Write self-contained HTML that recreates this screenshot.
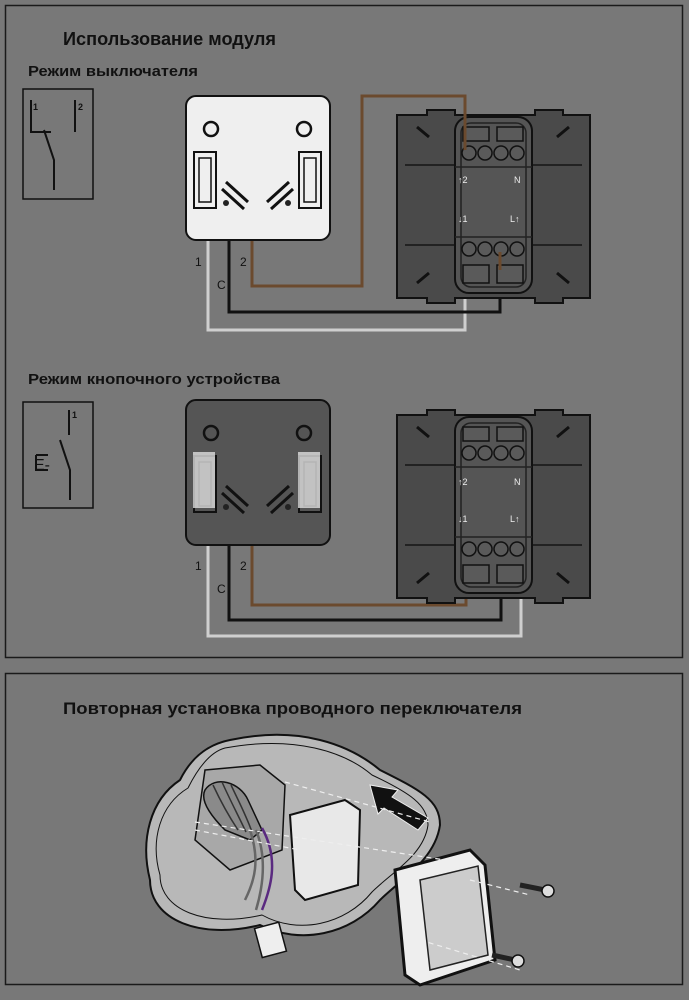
<!DOCTYPE html>
<html><head><meta charset="utf-8"><style>
html,body{margin:0;padding:0;background:#787878;}
svg{display:block}
text{font-family:"Liberation Sans",sans-serif;fill:#111}
</style></head><body>
<svg width="689" height="1000" viewBox="0 0 689 1000" xmlns="http://www.w3.org/2000/svg">
<defs>
<g id="mech">
  <path d="M0,10 h30 v-5 h28 v5 h80 v-5 h28 v5 h27 v183 h-27 v5 h-28 v-5 h-80 v5 h-28 v-5 h-30 z" fill="#4a4a4a" stroke="#111" stroke-width="2"/>
  <path d="M8,60 h50 M135,60 h50 M8,140 h50 M135,140 h50" stroke="#222" stroke-width="2"/>
  <rect x="58" y="12" width="77" height="176" rx="14" fill="#555" stroke="#111" stroke-width="2"/>
  <rect x="64" y="18" width="65" height="164" rx="10" fill="none" stroke="#222" stroke-width="1.5"/>
  <g fill="#5a5a5a" stroke="#111" stroke-width="1.5">
    <circle cx="72" cy="48" r="7"/><circle cx="88" cy="48" r="7"/><circle cx="104" cy="48" r="7"/><circle cx="120" cy="48" r="7"/>
    <circle cx="72" cy="144" r="7"/><circle cx="88" cy="144" r="7"/><circle cx="104" cy="144" r="7"/><circle cx="120" cy="144" r="7"/>
    <rect x="66" y="22" width="26" height="14"/><rect x="100" y="22" width="26" height="14"/>
    <rect x="66" y="160" width="26" height="18"/><rect x="100" y="160" width="26" height="18"/>
  </g>
  <g fill="none" stroke="#111" stroke-width="3">
    <path d="M20,22 l12,10 M160,32 l12,-10 M20,178 l12,-10 M160,168 l12,10"/>
  </g>
  <path d="M58,62 h77 M58,132 h77" stroke="#222" stroke-width="1.5"/>
</g>
<g id="mod">
  <circle cx="25" cy="22" r="7" fill="none" stroke="#111" stroke-width="2.5"/>
  <circle cx="118" cy="22" r="7" fill="none" stroke="#111" stroke-width="2.5"/>
  <rect x="8" y="45" width="22" height="56" fill="none" stroke="#111" stroke-width="2"/>
  <rect x="13" y="51" width="12" height="44" fill="none" stroke="#111" stroke-width="1.5"/>
  <rect x="113" y="45" width="22" height="56" fill="none" stroke="#111" stroke-width="2"/>
  <rect x="118" y="51" width="12" height="44" fill="none" stroke="#111" stroke-width="1.5"/>
  <path d="M40,75 l22,20 M36,82 l22,20 M103,75 l-22,20 M107,82 l-22,20" stroke="#111" stroke-width="3"/>
  <circle cx="40" cy="96" r="3" fill="#222"/><circle cx="102" cy="96" r="3" fill="#222"/>
</g>
</defs>

<rect x="5.5" y="5.5" width="677" height="652" fill="none" stroke="#1a1a1a" stroke-width="1.5"/>
<rect x="5.5" y="673.5" width="677" height="311" fill="none" stroke="#1a1a1a" stroke-width="1.5"/>

<text x="63" y="45" font-size="18" font-weight="bold" textLength="213" lengthAdjust="spacingAndGlyphs">Использование модуля</text>
<text x="28" y="76" font-size="15" font-weight="bold" textLength="170" lengthAdjust="spacingAndGlyphs">Режим выключателя</text>

<rect x="23" y="89" width="70" height="110" fill="none" stroke="#111" stroke-width="1.5"/>
<path d="M31,100 v32 h20 M44,130 l10,30 v30 M75,100 v32" stroke="#111" stroke-width="2" fill="none"/>
<text x="33" y="110" font-size="9" font-weight="bold">1</text>
<text x="78" y="110" font-size="9" font-weight="bold">2</text>

<path d="M252,240 V286 H362 V96 H465 V150" fill="none" stroke="#6b4a2e" stroke-width="3"/>
<path d="M208,240 V330 H465 V255" fill="none" stroke="#cfcfcf" stroke-width="3"/>
<path d="M229,240 V312 H500 V252" fill="none" stroke="#111" stroke-width="3"/>
<rect x="186" y="96" width="144" height="144" rx="10" fill="#efefef" stroke="#111" stroke-width="2"/>
<use href="#mod" x="186" y="107"/>
<use href="#mech" x="397" y="105"/>
<path d="M465,96 V150 M500,252 V270" stroke="#6b4a2e" stroke-width="3"/>
<text x="458" y="183" font-size="9" style="fill:#eee">↑2</text>
<text x="514" y="183" font-size="9" style="fill:#eee">N</text>
<text x="458" y="222" font-size="9" style="fill:#eee">↓1</text>
<text x="510" y="222" font-size="9" style="fill:#eee">L↑</text>
<text x="195" y="266" font-size="12">1</text>
<text x="240" y="266" font-size="12">2</text>
<text x="217" y="289" font-size="12">C</text>

<text x="28" y="384" font-size="15" font-weight="bold" textLength="252" lengthAdjust="spacingAndGlyphs">Режим кнопочного устройства</text>

<rect x="23" y="402" width="70" height="106" fill="none" stroke="#111" stroke-width="1.5"/>
<path d="M69,410 v25 M60,440 l10,30 v30 M36,455 h12 M36,455 v15 h12" stroke="#111" stroke-width="2" fill="none"/>
<text x="34" y="470" font-size="16">E-</text>
<text x="72" y="418" font-size="9" font-weight="bold">1</text>

<path d="M252,545 V605 H466 V550" fill="none" stroke="#6b4a2e" stroke-width="3"/>
<path d="M208,545 V636 H521 V550" fill="none" stroke="#cfcfcf" stroke-width="3"/>
<path d="M229,545 V620 H501 V550" fill="none" stroke="#111" stroke-width="3"/>
<rect x="186" y="400" width="144" height="145" rx="10" fill="#555" stroke="#111" stroke-width="2"/>
<use href="#mod" x="186" y="411"/>
<rect x="193" y="452" width="22" height="56" fill="#ddd" opacity=".8"/>
<rect x="298" y="452" width="22" height="56" fill="#ddd" opacity=".8"/>
<use href="#mech" x="397" y="405"/>
<text x="458" y="485" font-size="9" style="fill:#eee">↑2</text>
<text x="514" y="485" font-size="9" style="fill:#eee">N</text>
<text x="458" y="522" font-size="9" style="fill:#eee">↓1</text>
<text x="510" y="522" font-size="9" style="fill:#eee">L↑</text>
<text x="195" y="570" font-size="12">1</text>
<text x="240" y="570" font-size="12">2</text>
<text x="217" y="593" font-size="12">C</text>

<text x="63" y="714" font-size="17" font-weight="bold" textLength="459" lengthAdjust="spacingAndGlyphs">Повторная установка проводного переключателя</text>

<path d="M230,740 C300,725 350,745 380,770 C420,790 440,800 440,825 C435,860 400,880 380,900 C350,935 300,945 260,925 C200,940 150,920 150,880 C140,840 150,800 180,780 C190,760 205,745 230,740 Z" fill="#b8b8b8" stroke="#111" stroke-width="2"/>
<path d="M225,748 C295,735 345,752 372,775 C410,793 428,805 428,825 C424,855 392,872 372,892 C345,925 298,935 262,915 C205,928 160,910 160,875 C150,840 160,805 188,788 C198,768 210,752 225,748 Z" fill="none" stroke="#111" stroke-width="1"/>
<path d="M205,770 L260,765 L285,785 L282,850 L230,870 L195,840 Z" fill="#a8a8a8" stroke="#111" stroke-width="1.5"/>
<path d="M205,790 C215,775 240,782 248,800 L262,830 L250,840 L225,830 C210,815 200,800 205,790 Z" fill="#8a8a8a" stroke="#111" stroke-width="1.5"/>
<path d="M213,785 C220,800 228,815 238,830 M222,782 C230,800 238,815 246,832 M231,785 C238,800 246,815 252,832" stroke="#333" stroke-width="1.5" fill="none"/>
<path d="M250,830 C260,860 255,880 245,900 M256,830 C268,860 262,890 256,910" stroke="#666" stroke-width="2.5" fill="none"/>
<path d="M262,828 C280,860 270,890 262,910" stroke="#5a2a80" stroke-width="2.5" fill="none"/>
<rect x="258" y="925" width="25" height="30" fill="#eee" stroke="#111" stroke-width="1.5" transform="rotate(-15 270 940)"/>
<path d="M290,815 L345,800 L360,810 L358,885 L305,900 L295,890 Z" fill="#e8e8e8" stroke="#111" stroke-width="2"/>
<path d="M395,870 L470,850 L485,865 L495,960 L420,985 L405,975 Z" fill="#eee" stroke="#111" stroke-width="3"/>
<path d="M420,880 L478,866 L488,955 L430,970 Z" fill="#ccc" stroke="#222" stroke-width="1.5"/>
<path d="M370,785 L398,790 L392,797 L428,818 L418,830 L384,808 L378,814 Z" fill="#111" stroke="#eee" stroke-width="1"/>
<g stroke="#eee" stroke-width="1.2" stroke-dasharray="5,4" fill="none">
<path d="M195,822 L445,860 M285,782 L430,822 M195,830 L300,850 M420,940 L520,970 M470,880 L530,895"/>
</g>
<path d="M520,885 L545,890" stroke="#222" stroke-width="5"/><circle cx="548" cy="891" r="6" fill="#ddd" stroke="#111" stroke-width="1.5"/>
<path d="M492,955 L515,960" stroke="#222" stroke-width="5"/><circle cx="518" cy="961" r="6" fill="#ddd" stroke="#111" stroke-width="1.5"/>
</svg>
</body></html>
